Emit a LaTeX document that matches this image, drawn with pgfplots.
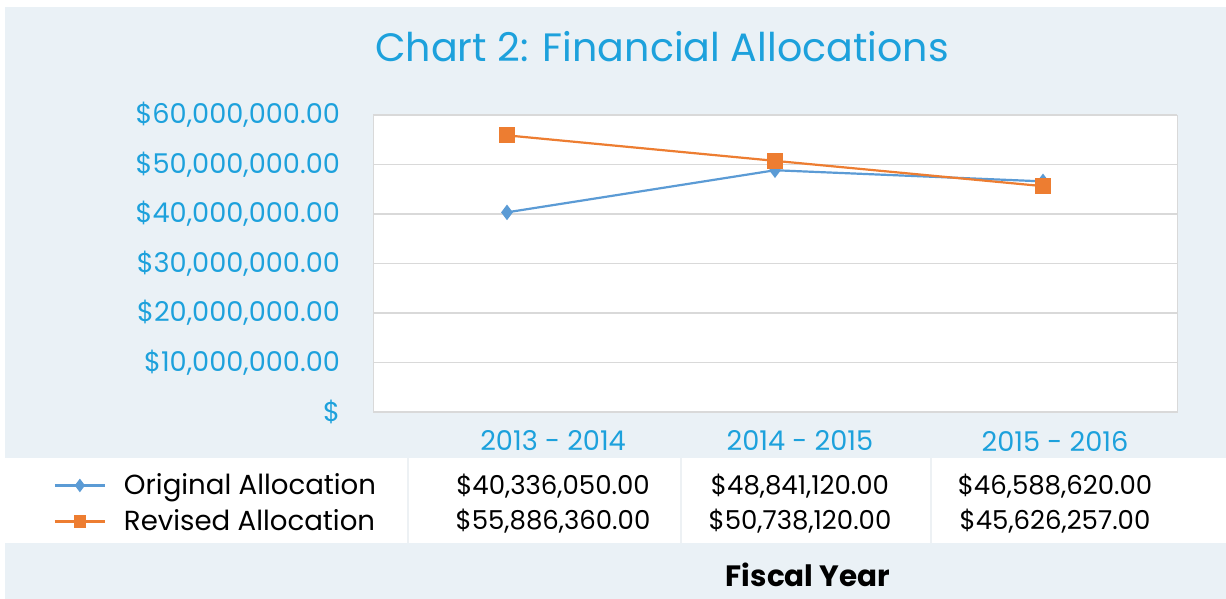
\documentclass[border=0pt]{standalone}
\usepackage{fontspec}
\setmainfont{Poppins}
\usepackage{pgfplots}
\pgfplotsset{compat=1.18}
\definecolor{bgblue}{HTML}{EAF1F6}
\definecolor{titleblue}{HTML}{1DA1DC}
\definecolor{origblue}{HTML}{5B9BD5}
\definecolor{revorange}{HTML}{ED7D31}
\definecolor{gridgray}{HTML}{D9D9D9}
\definecolor{sepgray}{HTML}{EDF1F4}
\begin{document}
\begin{tikzpicture}
\begin{scope}[x=0.5pt,y=-0.5pt]
  \fill[white] (0,0) rectangle (1226,599);
  \fill[bgblue] (5,7) rectangle (1226,599);
  \fill[white] (5,458) rectangle (1226,543);
  \draw[sepgray, line width=1.2pt] (408,458) -- (408,543);
  \draw[sepgray, line width=1.2pt] (681,458) -- (681,543);
  \draw[sepgray, line width=1.2pt] (931,458) -- (931,543);
  \node[font=\fontsize{19.8}{23}\selectfont, text=titleblue] at (662,47) {Chart 2: Financial Allocations};
  \node[font=\fontsize{13}{15}\selectfont] at (553,486) {\$40,336,050.00};
  \node[font=\fontsize{13}{15}\selectfont] at (553,521) {\$55,886,360.00};
  \node[font=\fontsize{13}{15}\selectfont] at (800,486) {\$48,841,120.00};
  \node[font=\fontsize{13}{15}\selectfont] at (800,521) {\$50,738,120.00};
  \node[font=\fontsize{13}{15}\selectfont] at (1055,486) {\$46,588,620.00};
  \node[font=\fontsize{13}{15}\selectfont] at (1055,521) {\$45,626,257.00};
  \node[font=\bfseries\fontsize{14.7}{17}\selectfont] at (808,575) {Fiscal Year};
\end{scope}
\begin{axis}[
  at={(186.5pt,-206pt)}, anchor=south west,
  scale only axis, width=402pt, height=148.5pt,
  xmin=-0.5, xmax=2.5, ymin=0, ymax=60000000,
  scaled y ticks=false,
  axis background/.style={fill=white},
  axis line style={gridgray},
  xtick={0.172,1.093,2.045},
  xticklabels={2013 - 2014, 2014 - 2015, 2015 - 2016},
  xticklabel style={font=\fontsize{13.6}{16}\selectfont, text=titleblue, anchor=center, yshift=-14.5pt},
  ytick={0,10000000,20000000,30000000,40000000,50000000,60000000},
  yticklabels={{\$},{\$10,000,000.00},{\$20,000,000.00},{\$30,000,000.00},{\$40,000,000.00},{\$50,000,000.00},{\$60,000,000.00}},
  yticklabel style={font=\fontsize{13.6}{16}\selectfont, text=titleblue, xshift=-13pt},
  major tick length=0pt,
  ymajorgrids, grid style={gridgray, line width=0.6pt},
  legend style={at={(axis description cs:-0.405,-0.308)}, anchor=west, draw=none, fill=none,
    font=\fontsize{13.8}{16}\selectfont, row sep=2pt},
  legend cell align=left,
  legend image code/.code={\draw[mark repeat=2,mark phase=2,mark size=2.5pt] plot coordinates {(0pt,0pt) (12.5pt,0pt) (25pt,0pt)}; \path (32pt,0pt);},
]
\addplot[origblue, line width=1.1pt, mark=diamond*, mark size=3pt, mark options={fill=origblue}] coordinates {(0,40336050) (1,48841120) (2,46588620)};
\addlegendentry{Original Allocation}
\addplot[revorange, line width=1.1pt, mark=square*, mark size=3.5pt, mark options={fill=revorange}] coordinates {(0,55886360) (1,50738120) (2,45626257)};
\addlegendentry{Revised Allocation}
\end{axis}
\end{tikzpicture}
\end{document}
